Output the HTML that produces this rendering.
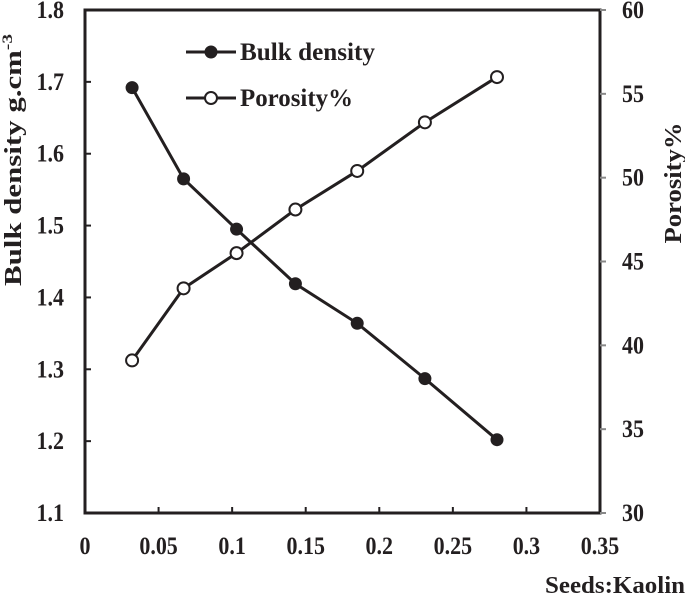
<!DOCTYPE html>
<html><head><meta charset="utf-8"><style>
body{margin:0;background:#fff}
text{font-family:"Liberation Serif",serif;font-weight:bold;fill:#231f20}
</style></head><body>
<svg id="c" width="685" height="599" xmlns="http://www.w3.org/2000/svg"></svg>
<script>
const xs=[0.032,0.067,0.103,0.143,0.185,0.231,0.28];
const bulk=[1.692,1.565,1.495,1.419,1.364,1.287,1.202];
const poro=[39.1,43.4,45.5,48.1,50.4,53.3,56.0];
const xTicks=[0,0.05,0.1,0.15,0.2,0.25,0.3,0.35];
const xTickLabels=["0","0.05","0.1","0.15","0.2","0.25","0.3","0.35"];
const yTicks=[1.1,1.2,1.3,1.4,1.5,1.6,1.7,1.8];
const y2Ticks=[30,35,40,45,50,55,60];
const L=85,R=600,T=10,B=513;
const X=v=>L+(v/0.35)*(R-L);
const Y=v=>B-(v-1.1)/0.7*(B-T);
const Y2=v=>B-(v-30)/30*(B-T);
const svg=document.getElementById('c');
const NS="http://www.w3.org/2000/svg";
function mk(t,a,p){const e=document.createElementNS(NS,t);for(const k in a)e.setAttribute(k,a[k]);(p||svg).appendChild(e);return e;}
function tx(x,y,anchor,size){return mk('text',{x:0,y:0,"text-anchor":anchor,"font-size":size,transform:`translate(${x},${y}) scale(0.88,1)`});}
let e;
e=mk('line',{x1:R,y1:T,x2:R,y2:B,stroke:'#888',"stroke-width":2});


e=mk('rect',{x:L,y:T,width:R-L,height:B-T,fill:'none',stroke:'#231f20',"stroke-width":3});


xTicks.forEach((v,i)=>{
 e=mk('line',{x1:X(v),y1:B,x2:X(v),y2:B-6,stroke:'#231f20',"stroke-width":2});
 
 
 e=tx(X(v),B+41,"middle",25);
 e.textContent=xTickLabels[i];
 
 
});
yTicks.forEach(v=>{
 e=mk('line',{x1:L,y1:Y(v),x2:L+6,y2:Y(v),stroke:'#231f20',"stroke-width":2});
 
 
 e=tx(L-21,Y(v)+8,"end",25);
 e.textContent=v.toFixed(1);
 
 
});
y2Ticks.forEach(v=>{
 e=mk('line',{x1:R,y1:Y2(v),x2:R+6,y2:Y2(v),stroke:'#888',"stroke-width":2});
 
 
 e=tx(R+22,Y2(v)+8,"start",25);
 e.textContent=v;
 
 
});
e=mk('text',{x:0,y:0,"text-anchor":"middle","font-size":24,textLength:252,lengthAdjust:'spacingAndGlyphs',transform:'translate(21,160) rotate(-90)'});
e.innerHTML='Bulk density g.cm<tspan dy="-9" font-size="15">-3</tspan>';


e=mk('text',{x:0,y:0,"text-anchor":"middle","font-size":24,textLength:121,lengthAdjust:'spacingAndGlyphs',transform:'translate(681,183) rotate(-90)'});
e.textContent='Porosity%';


e=mk('text',{x:685,y:593,"text-anchor":"end","font-size":24,textLength:140,lengthAdjust:'spacingAndGlyphs'});
e.textContent='Seeds:Kaolin';


e=mk('polyline',{points:xs.map((x,i)=>X(x)+','+Y(bulk[i])).join(' '),fill:'none',stroke:'#231f20',"stroke-width":3});


e=mk('polyline',{points:xs.map((x,i)=>X(x)+','+Y2(poro[i])).join(' '),fill:'none',stroke:'#231f20',"stroke-width":3});


xs.forEach((x,i)=>{
 e=mk('circle',{cx:X(x),cy:Y(bulk[i]),r:6.5,fill:'#231f20'});
 
 
 e=mk('circle',{cx:X(x),cy:Y2(poro[i]),r:6,fill:'#fff',stroke:'#231f20',"stroke-width":2});
 
 
});
const g=mk('g',{});


e=mk('line',{x1:186,y1:52,x2:236,y2:52,stroke:'#231f20',"stroke-width":3},g);
e=mk('circle',{cx:211,cy:52,r:6.5,fill:'#231f20'},g);
e=mk('text',{x:240,y:60,"font-size":25,textLength:135,lengthAdjust:'spacingAndGlyphs'},g);
e.textContent='Bulk density';


e=mk('line',{x1:186,y1:98,x2:236,y2:98,stroke:'#231f20',"stroke-width":3},g);
e=mk('circle',{cx:211,cy:98,r:6,fill:'#fff',stroke:'#231f20',"stroke-width":2},g);
e=mk('text',{x:240,y:106,"font-size":25,textLength:113,lengthAdjust:'spacingAndGlyphs'},g);
e.textContent='Porosity%';


</script>
</body></html>
